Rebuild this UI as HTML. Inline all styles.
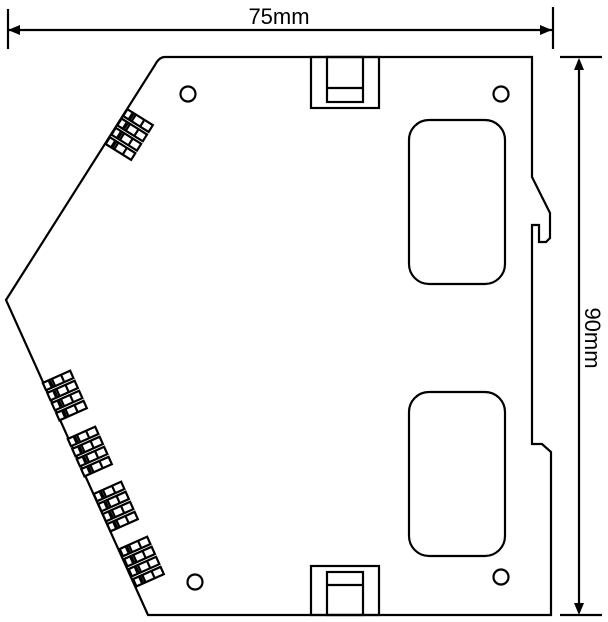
<!DOCTYPE html>
<html><head><meta charset="utf-8"><style>
html,body{margin:0;padding:0;background:#fff;}
svg{display:block;}
</style></head><body>
<svg width="608" height="622" viewBox="0 0 608 622" xmlns="http://www.w3.org/2000/svg">
<defs>
<g id="blk">
  <g fill="#fff" stroke="#000" stroke-width="2.2">
    <rect x="-15" y="-21" width="30" height="8"/>
    <rect x="-15" y="-10" width="30" height="8"/>
    <rect x="-15" y="1" width="30" height="8"/>
    <rect x="-15" y="12" width="30" height="8"/>
  </g>
  <g stroke="#000" stroke-width="2.2">
    <line x1="-5" y1="-21" x2="-5" y2="-13"/>
    <line x1="5" y1="-21" x2="5" y2="-13"/>
    <line x1="-5" y1="-10" x2="-5" y2="-2"/>
    <line x1="5" y1="-10" x2="5" y2="-2"/>
    <line x1="-5" y1="1" x2="-5" y2="9"/>
    <line x1="5" y1="1" x2="5" y2="9"/>
    <line x1="-5" y1="12" x2="-5" y2="20"/>
    <line x1="5" y1="12" x2="5" y2="20"/>
  </g>
  <g stroke="#000" stroke-width="3.5">
    <line x1="-8" y1="-20" x2="-8" y2="-14"/>
    <line x1="-8" y1="-9" x2="-8" y2="-3"/>
    <line x1="-8" y1="2" x2="-8" y2="8"/>
    <line x1="-8" y1="13" x2="-8" y2="19"/>
  </g>
</g>
</defs>
<g fill="none" stroke="#000" stroke-width="2.2">
  <path d="M165,57 L532,57 L532,177 L550,213 L550,238 L546,242 L539,242 L539,225 L532,225 L532,444 L542,444 L551,452 L551,615 L148,615 L6,300 L155,65 Q159,57 165,57 Z"/>
  <rect x="311" y="57" width="68" height="51"/>
  <rect x="327" y="57" width="36" height="45"/>
  <line x1="327" y1="88" x2="363" y2="88"/>
  <rect x="311" y="566" width="68" height="49"/>
  <rect x="327" y="572" width="36" height="43"/>
  <line x1="327" y1="585" x2="363" y2="585"/>
  <circle cx="188" cy="94" r="7.5"/>
  <circle cx="501" cy="94" r="7.5"/>
  <circle cx="195" cy="582" r="7.5"/>
  <circle cx="501" cy="577" r="7.5"/>
  <rect x="409" y="120" width="96" height="164" rx="20"/>
  <rect x="409" y="392" width="96" height="164" rx="20"/>
  <line x1="8" y1="30" x2="552" y2="30"/>
  <line x1="8" y1="9" x2="8" y2="49"/>
  <line x1="553" y1="7" x2="553" y2="49"/>
  <line x1="579" y1="60" x2="579" y2="612"/>
  <line x1="560" y1="57" x2="602" y2="57"/>
  <line x1="560" y1="615" x2="602" y2="615"/>
</g>
<g fill="#000">
  <polygon points="8,30 20,25 20,35"/>
  <polygon points="552,30 540,25 540,35"/>
  <polygon points="579,58 574,70 584,70"/>
  <polygon points="579,615 574,603 584,603"/>
</g>
<use href="#blk" transform="translate(129,135) rotate(32)"/>
<use href="#blk" transform="translate(65,396) rotate(-24)"/>
<use href="#blk" transform="translate(90,452) rotate(-24)"/>
<use href="#blk" transform="translate(116,507) rotate(-24)"/>
<use href="#blk" transform="translate(142,562) rotate(-24)"/>
<text x="279" y="24" font-family="Liberation Sans, sans-serif" font-size="22" text-anchor="middle">75mm</text>
<text x="0" y="0" transform="translate(585,338) rotate(90)" font-family="Liberation Sans, sans-serif" font-size="22" text-anchor="middle">90mm</text>
</svg>
</body></html>
